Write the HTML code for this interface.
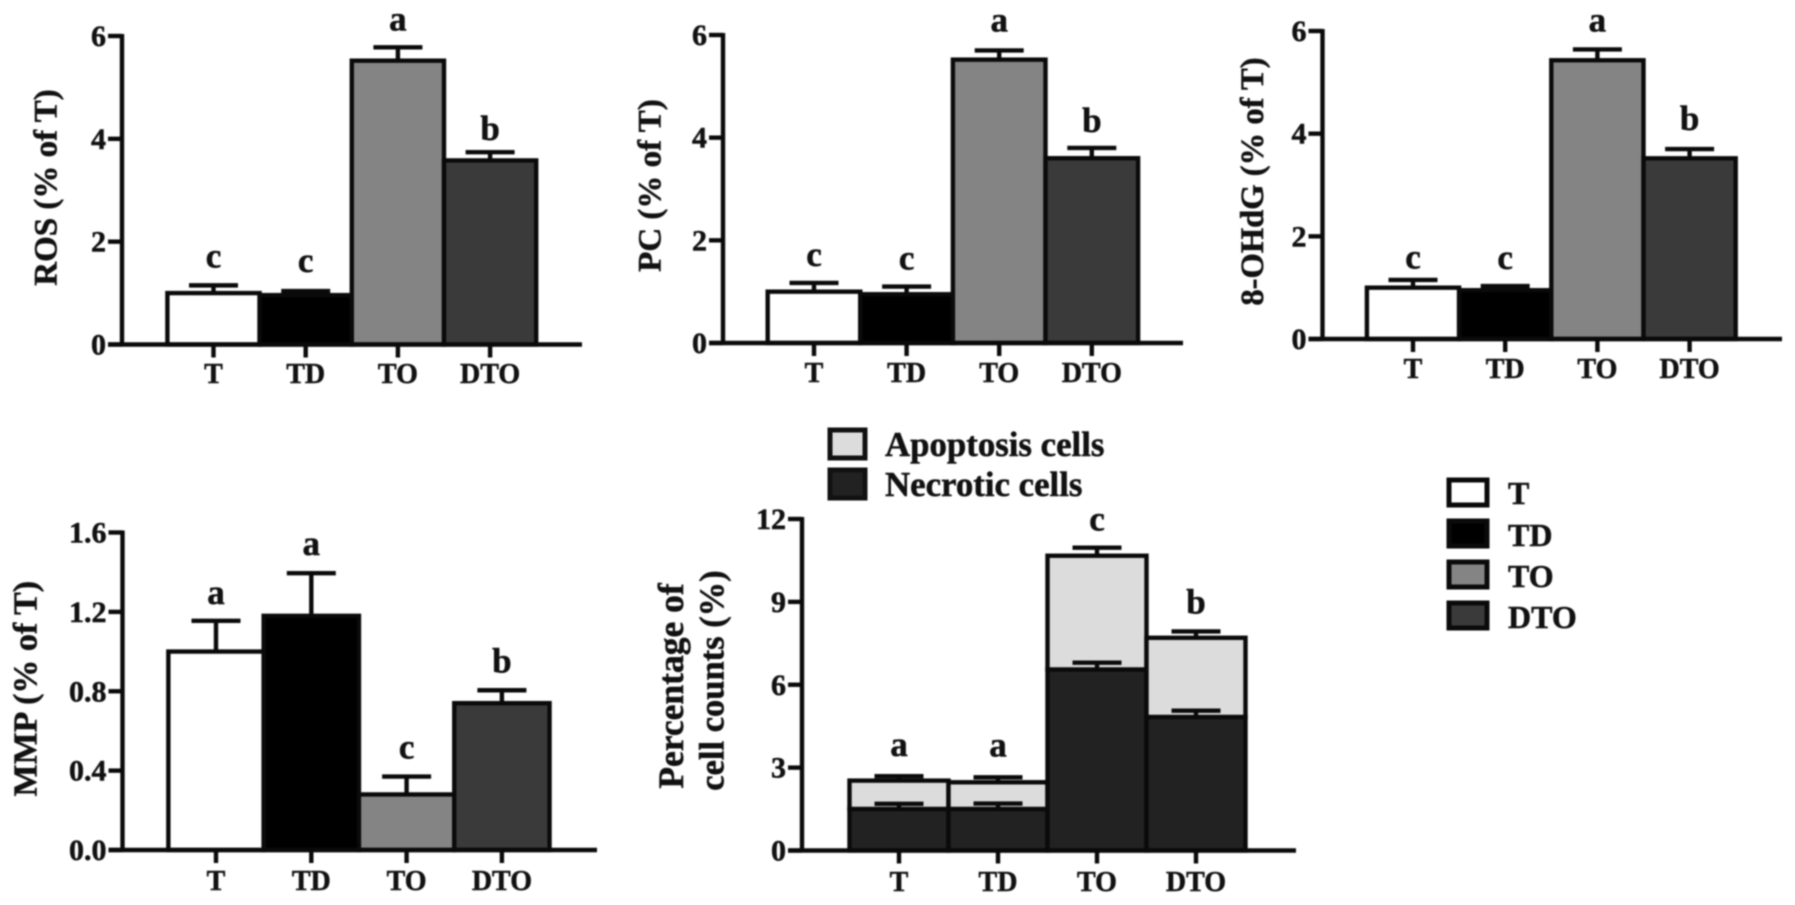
<!DOCTYPE html>
<html lang="en">
<head>
<meta charset="utf-8">
<title>Oxidative stress and cell death bar charts</title>
<style>
  html, body { margin: 0; padding: 0; background: #fff; width: 1795px; height: 905px; overflow: hidden; }
  svg { display: block; filter: blur(0.8px); }
  text { font-family: "Liberation Serif", serif; font-weight: bold; fill: #111; stroke: #111; stroke-width: 0.5px; }
</style>
</head>
<body>
<svg id="figure" xmlns="http://www.w3.org/2000/svg" width="1795" height="905" viewBox="0 0 1795 905">
  <g>
    <rect x="830" y="430" width="35" height="28" fill="#dcdcdc" stroke="#111" stroke-width="5"/>
    <text x="885" y="456" font-size="34.8">Apoptosis cells</text>
    <rect x="830" y="470" width="35" height="28" fill="#222" stroke="#111" stroke-width="5"/>
    <text x="885" y="496" font-size="34.8">Necrotic cells</text>
  </g>
  <g>
    <rect x="1449" y="480" width="38" height="25" fill="#fff" stroke="#0a0a0a" stroke-width="5"/>
    <text x="1508" y="504" font-size="32">T</text>
    <rect x="1449" y="521" width="38" height="25" fill="#000" stroke="#0a0a0a" stroke-width="5"/>
    <text x="1508" y="546" font-size="32">TD</text>
    <rect x="1449" y="562" width="38" height="25" fill="#848484" stroke="#0a0a0a" stroke-width="5"/>
    <text x="1508" y="587" font-size="32">TO</text>
    <rect x="1449" y="603" width="38" height="25" fill="#3a3a3a" stroke="#0a0a0a" stroke-width="5"/>
    <text x="1508" y="628" font-size="32">DTO</text>
  </g>
</svg>
<script>
// ---- chart data ----
const categories = ['T', 'TD', 'TO', 'DTO'];

const rosValues = [1.0, 0.96, 5.52, 3.58];
const rosErrors = [0.15, 0.08, 0.26, 0.16];
const rosLetters = ['c', 'c', 'a', 'b'];

const pcValues = [1.0, 0.95, 5.52, 3.6];
const pcErrors = [0.17, 0.15, 0.18, 0.2];
const pcLetters = ['c', 'c', 'a', 'b'];

const ohdgValues = [1.0, 0.95, 5.43, 3.52];
const ohdgErrors = [0.15, 0.08, 0.21, 0.18];
const ohdgLetters = ['c', 'c', 'a', 'b'];

const mmpValues = [1.0, 1.18, 0.28, 0.74];
const mmpErrors = [0.155, 0.215, 0.09, 0.065];
const mmpLetters = ['a', 'a', 'c', 'b'];

const necroticValues = [1.5, 1.5, 6.55, 4.83];
const necroticErrors = [0.19, 0.2, 0.25, 0.23];
const apoptosisValues = [1.03, 0.97, 4.12, 2.87];
const apoptosisErrors = [0.16, 0.18, 0.29, 0.23];
const cellLetters = ['a', 'a', 'c', 'b'];

const tickLabelsSix = ['0', '2', '4', '6'];
const tickLabelsMmp = ['0.0', '0.4', '0.8', '1.2', '1.6'];
const tickLabelsCells = ['0', '3', '6', '9', '12'];

const barFills = ['#ffffff', '#000000', '#848484', '#3a3a3a'];

// ---- layout of each panel (pixels live here, not in the data) ----
const panels = [
  { id: 'ros', title: ['ROS (% of T)'], titleX: [56.5], titleY: [187.5], titleSize: [33],
    axisX: 122, xEnd: 582, yTop: 36, yBase: 344.5, first: 213.5, band: 92.2, max: 6,
    ticks: tickLabelsSix, labelBase: 383, gaps: [18, 19, 17, 12],
    values: rosValues, errors: rosErrors, letters: rosLetters },
  { id: 'pc', title: ['PC (% of T)'], titleX: [660.5], titleY: [185.5], titleSize: [33],
    axisX: 723, xEnd: 1183, yTop: 35, yBase: 343, first: 814, band: 92.6, max: 6,
    ticks: tickLabelsSix, labelBase: 382, gaps: [17, 17, 19, 16],
    values: pcValues, errors: pcErrors, letters: pcLetters },
  { id: 'ohdg', title: ['8-OHdG (% of T)'], titleX: [1263], titleY: [181.5], titleSize: [32.6],
    axisX: 1322.5, xEnd: 1782, yTop: 31, yBase: 339, first: 1413, band: 92.2, max: 6,
    ticks: tickLabelsSix, labelBase: 378, gaps: [11.5, 17, 18, 19],
    values: ohdgValues, errors: ohdgErrors, letters: ohdgLetters },
  { id: 'mmp', title: ['MMP (% of T)'], titleX: [36.5], titleY: [688.7], titleSize: [34],
    axisX: 122.5, xEnd: 597, yTop: 532.5, yBase: 850, first: 216, band: 95.3, max: 1.6,
    ticks: tickLabelsMmp, labelBase: 890, gaps: [17, 18, 18, 18],
    values: mmpValues, errors: mmpErrors, letters: mmpLetters },
  { id: 'cells', title: ['Percentage of', 'cell counts (%)'], titleX: [683, 723.5], titleY: [686, 680.5], titleSize: [35.5, 34.5],
    axisX: 802, xEnd: 1296, yTop: 519, yBase: 850.5, first: 899, band: 99, max: 12,
    ticks: tickLabelsCells, labelBase: 891, gaps: [20, 21, 17, 18],
    values: necroticValues, errors: necroticErrors, letters: cellLetters,
    upperValues: apoptosisValues, upperErrors: apoptosisErrors }
];

const SVG_NS = 'http://www.w3.org/2000/svg';
const figure = document.getElementById('figure');
const INK = '#0a0a0a';
const STROKE = 4.4;
const CAP_WIDTH = 49;

function make(tag, attrs, parent) {
  const el = document.createElementNS(SVG_NS, tag);
  for (const key in attrs) el.setAttribute(key, attrs[key]);
  parent.appendChild(el);
  return el;
}

function drawError(group, p, i, base, err, yScale, xScale, name) {
  const cx = xScale(i);
  const stem = make('line', { x1: cx, x2: cx, y1: yScale(base), y2: yScale(base + err), stroke: INK, 'stroke-width': STROKE }, group);
  
  
  const cap = make('line', { x1: cx - CAP_WIDTH / 2, x2: cx + CAP_WIDTH / 2, y1: yScale(base + err), y2: yScale(base + err), stroke: INK, 'stroke-width': STROKE }, group);
  
  
}

function drawBar(group, p, i, low, high, fill, yScale, xScale, name) {
  const bar = make('rect', {
    x: xScale(i) - p.band / 2,
    y: yScale(high),
    width: p.band,
    height: yScale(low) - yScale(high),
    fill: fill, stroke: INK, 'stroke-width': STROKE
  }, group);
  
  
}

function drawPanel(p) {
  const group = make('g', {}, figure);
  
  

  const yScale = v => p.yBase - (v / p.max) * (p.yBase - p.yTop);
  const xScale = i => p.first + i * p.band;

  // bars with error bars
  p.values.forEach((v, i) => {
    const cat = categories[i].toLowerCase();
    let topEdge;
    if (p.upperValues) {
      const total = v + p.upperValues[i];
      drawError(group, p, i, total, p.upperErrors[i], yScale, xScale, p.id + '-apoptosis-' + cat);
      drawBar(group, p, i, v, total, '#dcdcdc', yScale, xScale, p.id + '-apoptosis-bar-' + cat);
      drawError(group, p, i, v, p.errors[i], yScale, xScale, p.id + '-necrotic-' + cat);
      drawBar(group, p, i, 0, v, '#222222', yScale, xScale, p.id + '-necrotic-bar-' + cat);
      topEdge = total + p.upperErrors[i];
    } else {
      drawError(group, p, i, v, p.errors[i], yScale, xScale, p.id + '-' + cat);
      drawBar(group, p, i, 0, v, barFills[i], yScale, xScale, p.id + '-bar-' + cat);
      topEdge = v + p.errors[i];
    }
    const letter = make('text', { x: xScale(i), y: yScale(topEdge) - p.gaps[i], 'text-anchor': 'middle', 'font-size': 35 }, group);
    letter.textContent = p.letters[i];
    
    
  });

  // y axis
  const yAxis = make('line', { x1: p.axisX, x2: p.axisX, y1: p.yTop - 2, y2: p.yBase + 2, stroke: INK, 'stroke-width': STROKE }, group);
  
  
  p.ticks.forEach(label => {
    const y = yScale(parseFloat(label));
    const tick = make('line', { x1: p.axisX - 14, x2: p.axisX, y1: y, y2: y, stroke: INK, 'stroke-width': STROKE }, group);
    
    
    const text = make('text', { x: p.axisX - 16, y: y + 10, 'text-anchor': 'end', 'font-size': 30 }, group);
    text.textContent = label;
    
    
  });

  // x axis
  const xAxis = make('line', { x1: p.axisX - 14, x2: p.xEnd, y1: p.yBase, y2: p.yBase, stroke: INK, 'stroke-width': STROKE }, group);
  
  
  categories.forEach((c, i) => {
    const tick = make('line', { x1: xScale(i), x2: xScale(i), y1: p.yBase, y2: p.yBase + 13, stroke: INK, 'stroke-width': STROKE }, group);
    
    
    const text = make('text', { x: xScale(i), y: p.labelBase, 'text-anchor': 'middle', 'font-size': 28 }, group);
    text.textContent = c;
    
    
  });

  // y axis title
  p.title.forEach((line, n) => {
    const tx = p.titleX[n];
    const ty = p.titleY[n];
    const title = make('text', { x: tx, y: ty, 'text-anchor': 'middle', 'font-size': p.titleSize[n], transform: 'rotate(-90 ' + tx + ' ' + ty + ')' }, group);
    title.textContent = line;
    
    
  });
}

panels.forEach(drawPanel);
</script>
</body>
</html>
